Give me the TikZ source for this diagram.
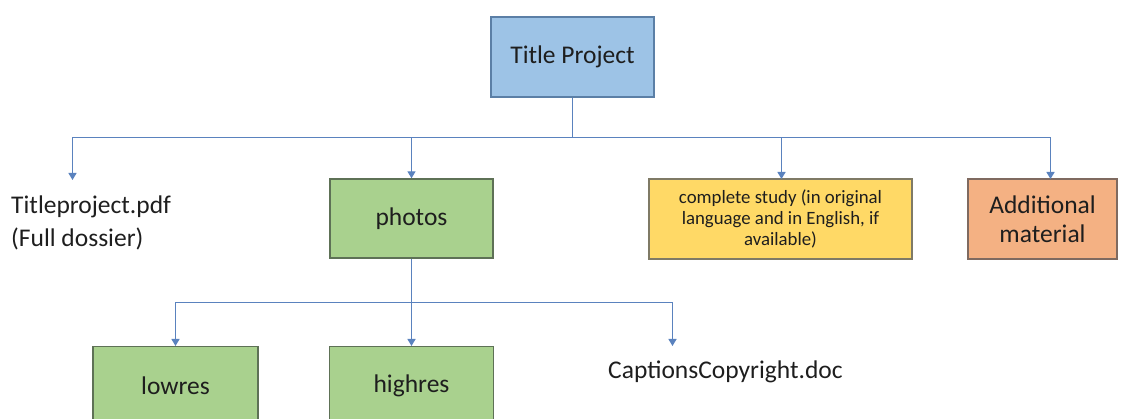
\documentclass[tikz,border=0pt]{standalone}
\usepackage{fontspec}
\setmainfont{Carlito}
\usetikzlibrary{arrows.meta}
\definecolor{bluefill}{HTML}{9DC3E6}
\definecolor{blueline}{HTML}{5B7FA6}
\definecolor{greenfill}{HTML}{A9D18E}
\definecolor{greenline}{HTML}{5E7156}
\definecolor{yellowfill}{HTML}{FFD966}
\definecolor{yellowline}{HTML}{7F7A66}
\definecolor{orangefill}{HTML}{F4B183}
\definecolor{orangeline}{HTML}{7F6A60}
\definecolor{conncol}{HTML}{5A82BE}
\definecolor{txt}{HTML}{1E1E1E}
\tikzset{
  box/.style={draw, line width=1.4pt, rectangle, inner sep=0pt, align=center, text=txt, font=\fontsize{25.5}{29}\selectfont},
  bluebox/.style={box, fill=bluefill, draw=blueline},
  greenbox/.style={box, fill=greenfill, draw=greenline},
  yellowbox/.style={box, fill=yellowfill, draw=yellowline, font=\fontsize{18.8}{21}\selectfont},
  orangebox/.style={box, fill=orangefill, draw=orangeline},
  plain/.style={inner sep=0pt, text=txt, font=\fontsize{25.5}{33}\selectfont},
  conn/.style={draw=conncol, line width=1.4pt},
  arr/.style={conn, -{Triangle[width=8pt,length=7pt]}}
}
\begin{document}
\begin{tikzpicture}[x=1pt,y=-1pt]
\useasboundingbox (0,0) rectangle (1121,419);
\clip (0,0) rectangle (1121,419);
% nodes
\node[bluebox, minimum width=163pt, minimum height=80pt] (title) at (572.5,57) {Title Project};
\node[plain, anchor=north west, align=left] (pdf) at (11,196) {Titleproject.pdf\\(Full dossier)};
\node[greenbox, minimum width=163pt, minimum height=79pt] (photos) at (411.5,218.5) {photos};
\node[yellowbox, minimum width=263pt, minimum height=80pt] (study) at (780.5,219) {complete study (in original\\language and in English, if\\available)};
\node[orangebox, minimum width=149pt, minimum height=80pt] (extra) at (1042.5,219) {Additional\\material};
\node[greenbox, minimum width=165pt, minimum height=90pt, anchor=north] (lowres) at (175.5,346) {};
\node[plain] (lowrestxt) at (175.5,386) {lowres};
\node[greenbox, minimum width=164pt, minimum height=90pt, anchor=north] (highres) at (411.5,346) {};
\node[plain] (highrestxt) at (411.5,386) {highres};
\node[plain, anchor=west] (captions) at (608,372) {CaptionsCopyright.doc};
% coordinates
\coordinate (j1) at (572.5,137.5);
\coordinate (pdfa) at (72.5,180);
\coordinate (studya) at (781.5,179);
\coordinate (extraa) at (1050.5,179);
\coordinate (j2) at (411.5,302.5);
\coordinate (capa) at (672.5,346);
% connectors
\draw[conn] (title.south) -- (j1);
\draw[arr] (j1) -| (pdfa);
\draw[arr] (j1) -| (photos.north);
\draw[arr] (j1) -| (studya);
\draw[arr] (j1) -| (extraa);
\draw[conn] (photos.south) -- (j2);
\draw[arr] (j2) -| (lowres.north);
\draw[arr] (j2) -| (highres.north);
\draw[arr] (j2) -| (capa);
\end{tikzpicture}
\end{document}
